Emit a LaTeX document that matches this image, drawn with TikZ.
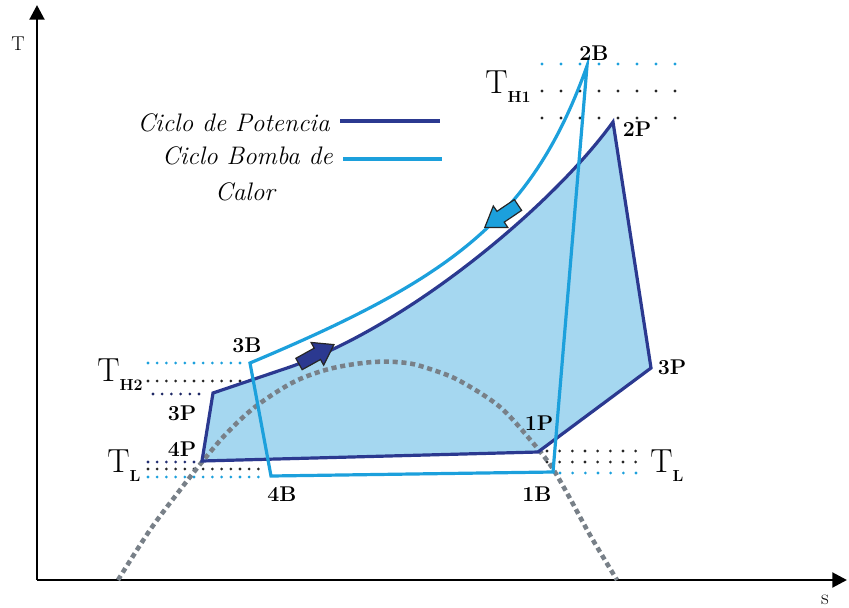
\documentclass[tikz,border=0pt]{standalone}
\usetikzlibrary{arrows.meta}
\definecolor{darkB}{RGB}{43,57,144}
\definecolor{cyanB}{RGB}{28,160,220}
\definecolor{fillB}{RGB}{165,215,240}
\definecolor{domeG}{RGB}{120,128,136}
\tikzset{
  axisline/.style={line width=2.2pt, black, -{Triangle[length=11pt,width=11pt]}},
  dotrow/.style={line width=2.3pt, line cap=round, dash pattern=on 0pt off #1},
  lbl/.style={font=\fontsize{16}{16}\selectfont\bfseries, inner sep=0pt},
  leg/.style={font=\fontsize{19}{19}\selectfont\itshape, inner sep=0pt},
  blockarr/.pic={\path[pic actions] (0,-6.5) -- (21,-6.5) -- (21,-13) -- (40,0) -- (21,13) -- (21,6.5) -- (0,6.5) -- cycle;},
  tlab/.style={inner sep=0pt, anchor=base west}
}
\newcommand{\Tsub}[1]{{\fontsize{25}{25}\selectfont T}\raisebox{-7pt}{\fontsize{12}{12}\selectfont\bfseries #1}}
\begin{document}
\begin{tikzpicture}[x=0.75pt,y=-0.75pt]
\useasboundingbox (0,0) rectangle (849,607);
% axes
\coordinate (O) at (37,580);
\coordinate (Ytip) at (37,5);
\coordinate (Xtip) at (847,580);
\draw[axisline] (O) -- (Ytip);
\draw[axisline] (O) -- (Xtip);
\node[inner sep=0pt, font=\fontsize{15}{15}\selectfont] (Tax) at (18,44) {T};
\node[inner sep=0pt, font=\fontsize{16}{16}\selectfont] (sax) at (825,600) {s};

% dotted rows T_H1
\coordinate (h1a) at (542,64);  \coordinate (h1b) at (678,64);
\coordinate (h1c) at (542,91);  \coordinate (h1d) at (678,91);
\coordinate (h1e) at (542,118); \coordinate (h1f) at (678,118);
\draw[dotrow=14.25pt, cyanB] (h1a) -- (h1b);
\draw[dotrow=14.25pt, black!85] (h1c) -- (h1d);
\draw[dotrow=14.25pt, black!85] (h1e) -- (h1f);
% T_H2
\coordinate (h2a) at (148,363); \coordinate (h2b) at (240,363);
\coordinate (h2c) at (148,381); \coordinate (h2d) at (256,381);
\coordinate (h2e) at (153,394); \coordinate (h2f) at (205,394);
\draw[dotrow=6.9pt, cyanB] (h2a) -- (h2b);
\draw[dotrow=6.9pt, black!85] (h2c) -- (h2d);
\draw[dotrow=6.9pt, darkB!70!black] (h2e) -- (h2f);
% T_L left
\coordinate (l1a) at (148,462); \coordinate (l1b) at (200,462);
\coordinate (l1c) at (148,469); \coordinate (l1d) at (264,469);
\coordinate (l1e) at (148,477); \coordinate (l1f) at (264,477);
\draw[dotrow=6.9pt, darkB!80!black] (l1a) -- (l1b);
\draw[dotrow=6.9pt, black!85] (l1c) -- (l1d);
\draw[dotrow=6.9pt, cyanB] (l1e) -- (l1f);
% T_L right
\coordinate (r1a) at (547,451); \coordinate (r1b) at (638,451);
\coordinate (r1c) at (547,462); \coordinate (r1d) at (638,462);
\coordinate (r1e) at (560,473); \coordinate (r1f) at (638,473);
\draw[dotrow=9.5pt, black!85] (r1a) -- (r1b);
\draw[dotrow=9.5pt, black!85] (r1c) -- (r1d);
\draw[dotrow=9.5pt, cyanB] (r1e) -- (r1f);

% power cycle
\coordinate (P4) at (202,461);
\coordinate (P3) at (213,393);
\coordinate (Pk) at (290,367);
\coordinate (P2) at (613,122);
\coordinate (P3r) at (651,368);
\coordinate (P1) at (538,452);
\fill[fillB] (P4) -- (P3) -- (Pk) .. controls (410,325) and (553,205) .. (P2) -- (P3r) -- (P1) -- cycle;

% dome
\draw[domeG, line width=3.4pt, dash pattern=on 3.8pt off 2.8pt] plot[smooth, tension=0.55] coordinates {(118,580) (150,530) (180,490) (202,462) (225,435) (250,411) (275,393) (300,379) (333,368) (373,362) (407,363) (433,370) (460,381) (500,407) (533,443) (551,466) (567,493) (590,535) (617,580)};

\draw[darkB, line width=2.4pt, line join=miter] (P4) -- (P3) -- (Pk) .. controls (410,325) and (553,205) .. (P2) -- (P3r) -- (P1) -- cycle;

% heat pump cycle
\coordinate (B3) at (250,363);
\coordinate (B4) at (271,476);
\coordinate (B1) at (553,472);
\coordinate (B2) at (587,66);
\draw[cyanB, line width=2.4pt, line join=miter] (B3) -- (B4) -- (B1) -- (B2) .. controls (532,220) and (450,279) .. (B3) -- cycle;

% flow arrows
\pic[fill=darkB, draw=black!85, line width=0.9pt, line join=miter, rotate=29] (arrP) at (299,364) {blockarr};
\pic[fill=cyanB, draw=black!85, line width=0.9pt, line join=miter, rotate=214] (arrB) at (518,205) {blockarr};

% legend
\node[leg, anchor=base east] (legP) at (330,131) {Ciclo de Potencia};
\node[leg, anchor=base east] (legB) at (333,164) {Ciclo Bomba de};
\node[leg, anchor=base] (legC) at (245,200) {Calor};
\coordinate (lp1) at (340,121); \coordinate (lp2) at (440,121);
\coordinate (lb1) at (343,159); \coordinate (lb2) at (442,159);
\draw[darkB, line width=2.4pt] (lp1) -- (lp2);
\draw[cyanB, line width=2.4pt] (lb1) -- (lb2);

% point labels
\node[lbl] (l2B) at (594,53) {2B};
\node[lbl] (l2P) at (637,129) {2P};
\node[lbl] (l3B) at (247,345) {3B};
\node[lbl] (l3Pl) at (182,413) {3P};
\node[lbl] (l4P) at (182,449) {4P};
\node[lbl] (l4B) at (282,494) {4B};
\node[lbl] (l1B) at (537,494) {1B};
\node[lbl] (l1P) at (539,423) {1P};
\node[lbl] (l3Pr) at (672,367) {3P};

% temperature labels
\node[tlab] (TH1) at (485,93) {\Tsub{H1}};
\node[tlab] (TH2) at (97,381) {\Tsub{H2}};
\node[tlab] (TLl) at (107,472) {\Tsub{L}};
\node[tlab] (TLr) at (650,472) {\Tsub{L}};
\end{tikzpicture}
\end{document}
